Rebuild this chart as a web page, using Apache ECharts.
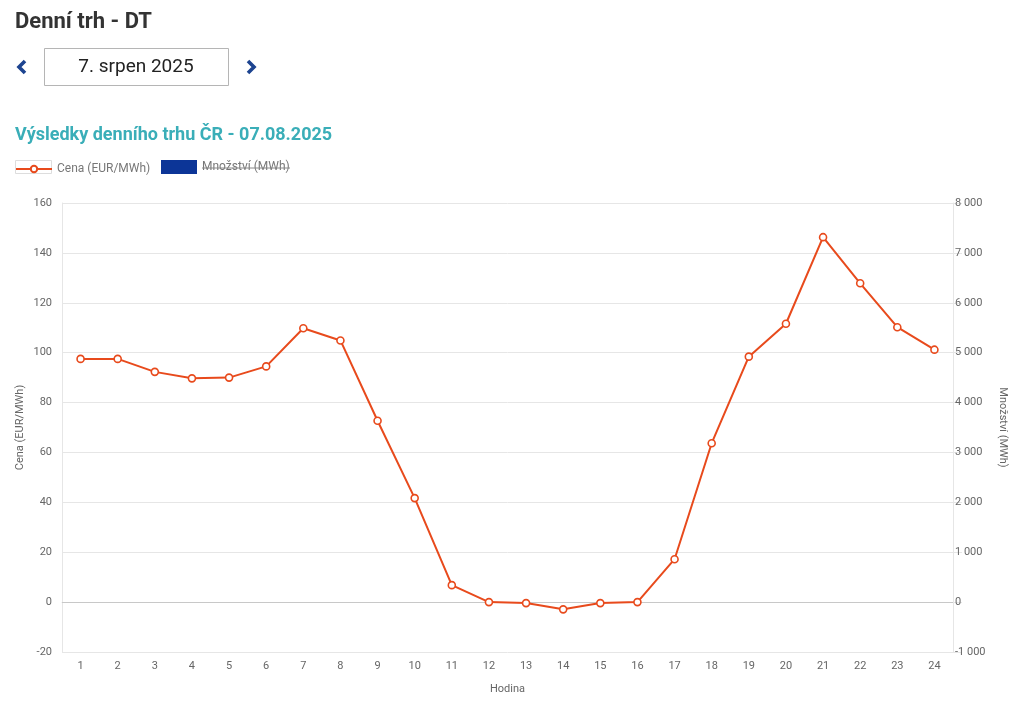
<!DOCTYPE html>
<html>
<head>
<meta charset="utf-8">
<script src="https://cdn.jsdelivr.net/npm/echarts@6/dist/echarts.min.js"></script>
<style>
html,body{margin:0;padding:0;background:#fff;}
#chart{width:1024px;height:708px;}
</style>
</head>
<body>
<div id="chart"></div>
<script>
// ---- data ----
const hours = ['1','2','3','4','5','6','7','8','9','10','11','12','13','14','15','16','17','18','19','20','21','22','23','24'];
const priceEUR = [97.5, 97.5, 92.3, 89.7, 90.0, 94.5, 109.8, 104.9, 72.7, 41.7, 6.8, 0.0, -0.4, -2.9, -0.4, 0.0, 17.2, 63.7, 98.4, 111.6, 146.3, 127.8, 110.2, 101.2];
const quantityMWh = []; // series hidden in the reference (legend item disabled)
const leftTicks = {min: -20, max: 160, interval: 20};
const rightTicks = {min: -1000, max: 8000, interval: 1000};
const pageTitle = 'Denní trh - DT';
const dateLabel = '7. srpen 2025';
const chartTitle = 'Výsledky denního trhu ČR - 07.08.2025';
const seriesNames = ['Cena (EUR/MWh)', 'Množství (MWh)'];

const FONT = 'Roboto, "Noto Sans", sans-serif';
const chart = echarts.init(document.getElementById('chart'));

function fmtThousands(v){
  const s = Math.abs(v).toString().replace(/\B(?=(\d{3})+(?!\d))/g, ' ');
  return (v < 0 ? '-' : '') + s;
}

chart.setOption({
  backgroundColor: '#fff',
  animation: false,
  textStyle: {fontFamily: FONT},
  title: [
    {text: pageTitle, left: 10, top: 6, textStyle: {fontSize: 22, fontWeight: 'bold', color: '#333', fontFamily: FONT}},
    {text: chartTitle, left: 10, top: 121, textStyle: {fontSize: 18, fontWeight: 'bold', color: '#3aaeb8', fontFamily: FONT}}
  ],
  graphic: [
    {type: 'rect', shape: {x: 44.5, y: 48.5, width: 184, height: 37}, style: {fill: '#fff', stroke: '#b5b5b5', lineWidth: 1}},
    {type: 'text', x: 136, y: 67, style: {text: dateLabel, fill: '#222', font: '19px ' + FONT, align: 'center', verticalAlign: 'middle'}},
    {type: 'polyline', shape: {points: [[25, 61], [19, 67], [25, 73]]}, style: {stroke: '#1d4490', lineWidth: 3.6, fill: null}},
    {type: 'polyline', shape: {points: [[248, 61], [254, 67], [248, 73]]}, style: {stroke: '#1d4490', lineWidth: 3.6, fill: null}},
    {type: 'rect', shape: {x: 15.5, y: 160.5, width: 36, height: 13}, style: {fill: 'none', stroke: '#dddddd', lineWidth: 1}, z: 1},
    {type: 'line', shape: {x1: 202, y1: 168, x2: 290, y2: 168}, style: {stroke: '#888', lineWidth: 1}, z: 10}
  ],
  legend: [
    {
      left: 15, top: 163, padding: 0,
      itemWidth: 36, itemHeight: 8,
      textStyle: {fontSize: 12, color: '#777', fontFamily: FONT},
      data: [{name: seriesNames[0]}],
      selectedMode: false
    },
    {
      left: 161, top: 160, padding: 0,
      itemWidth: 36, itemHeight: 14,
      textStyle: {fontSize: 12, color: '#777', fontFamily: FONT},
      data: [{name: seriesNames[1], icon: 'rect'}],
      selectedMode: false
    }
  ],
  grid: {left: 62, right: 71, top: 203, bottom: 56},
  xAxis: {
    type: 'category',
    data: hours,
    boundaryGap: true,
    name: 'Hodina',
    nameLocation: 'middle',
    nameGap: 32,
    nameTextStyle: {fontSize: 11, color: '#666'},
    axisLine: {show: true, lineStyle: {color: '#e6e6e6'}},
    axisTick: {show: false},
    axisLabel: {fontSize: 11, color: '#666', margin: 9}
  },
  yAxis: [
    {
      type: 'value',
      min: leftTicks.min, max: leftTicks.max, interval: leftTicks.interval,
      name: seriesNames[0],
      nameLocation: 'middle',
      nameGap: 36,
      nameMoveOverlap: false,
      nameTextStyle: {fontSize: 11, color: '#666'},
      axisLine: {show: true, lineStyle: {color: '#e6e6e6'}},
      axisTick: {show: false},
      axisLabel: {fontSize: 11, color: '#666', margin: 10},
      splitLine: {show: true, lineStyle: {color: '#e6e6e6'}}
    },
    {
      type: 'value',
      position: 'right',
      min: rightTicks.min, max: rightTicks.max, interval: rightTicks.interval,
      name: seriesNames[1],
      nameLocation: 'middle',
      nameGap: 44,
      nameRotate: -90,
      nameTextStyle: {fontSize: 11, color: '#666'},
      axisLine: {show: true, lineStyle: {color: '#e6e6e6'}},
      axisTick: {show: true, length: 9, lineStyle: {color: '#e6e6e6'}},
      axisLabel: {fontSize: 11, color: '#666', margin: 2, formatter: fmtThousands},
      splitLine: {show: false}
    }
  ],
  series: [
    {
      name: seriesNames[0],
      type: 'line',
      yAxisIndex: 0,
      data: priceEUR,
      color: '#e84a1c',
      symbol: 'circle',
      symbolSize: 7,
      itemStyle: {color: '#fff', borderColor: '#e84a1c', borderWidth: 1.6},
      lineStyle: {color: '#e84a1c', width: 2},
      z: 5,
      markLine: {
        silent: true,
        symbol: 'none',
        label: {show: false},
        lineStyle: {color: '#c8c8c8', type: 'solid', width: 1},
        data: [{yAxis: 0}],
        z: 1
      }
    },
    {
      name: seriesNames[1],
      type: 'bar',
      yAxisIndex: 1,
      data: quantityMWh,
      color: '#0c3597'
    }
  ]
});
</script>
</body>
</html>
